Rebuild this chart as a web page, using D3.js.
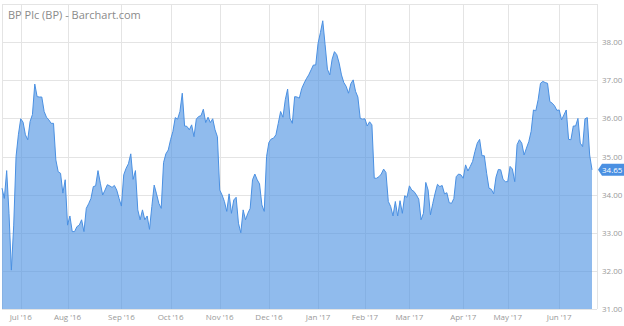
<!DOCTYPE html>
<html>
<head>
<meta charset="utf-8">
<script src="https://cdn.jsdelivr.net/npm/d3@7"></script>
<style>
  body { margin: 0; background: #fff; }
  svg text { font-family: "Open Sans", sans-serif; }
</style>
</head>
<body>
<svg width="624" height="326"></svg>
<script>
// daily closes, first trading day 2016-06-21, last 2017-06-21
const closes = [
  34.17, 33.90, 34.63, 33.50, 32.02, 33.20, 35.00, 35.57, 35.99, 35.90,
  35.57, 35.44, 35.92, 36.10, 36.90, 36.57, 36.56, 36.56, 36.18, 36.03,
  35.96, 35.87, 35.87, 34.91, 34.60, 34.56, 34.04, 34.39, 33.20, 33.44,
  33.03, 33.03, 33.16, 33.20, 33.34, 33.03, 33.64, 33.76, 33.90, 34.21,
  34.23, 34.63, 34.30, 33.99, 34.12, 34.26, 34.23, 34.19, 34.24, 34.12,
  33.90, 33.70, 34.52, 34.69, 34.81, 35.07, 34.40, 34.63, 33.60, 33.34,
  33.60, 33.34, 33.44, 33.09, 33.69, 34.25, 34.02, 33.77, 33.64, 34.84,
  35.07, 35.17, 35.44, 35.66, 36.02, 35.98, 36.18, 36.66, 35.80, 35.79,
  35.70, 35.83, 35.52, 35.98, 36.05, 36.07, 36.24, 35.89, 36.03, 35.89,
  35.99, 35.70, 35.52, 34.12, 33.99, 33.82, 33.56, 34.02, 33.51, 33.86,
  33.93, 33.25, 33.00, 33.60, 33.34, 33.51, 33.64, 34.39, 34.54, 34.39,
  34.28, 33.73, 33.56, 35.00, 35.37, 35.46, 35.48, 35.57, 35.87, 36.18,
  36.03, 36.49, 36.77, 36.00, 35.87, 36.57, 36.56, 36.53, 36.78, 36.92,
  37.04, 37.14, 37.27, 37.40, 37.40, 37.97, 38.25, 38.56, 37.93, 37.29,
  37.14, 37.55, 37.75, 37.67, 37.45, 37.14, 36.94, 36.84, 36.66, 36.91,
  37.01, 36.71, 36.56, 36.00, 35.98, 35.99, 35.80, 35.91, 35.83, 34.43,
  34.43, 34.47, 34.54, 34.67, 34.58, 33.82, 33.69, 33.44, 33.82, 33.44,
  33.84, 33.51, 33.97, 33.93, 34.23, 34.12, 34.08, 33.99, 33.88, 33.34,
  33.51, 34.32, 34.12, 33.47, 33.77, 34.04, 34.27, 34.21, 34.24, 34.02,
  34.05, 33.79, 33.77, 33.90, 34.47, 34.54, 34.52, 34.43, 34.78, 34.62,
  34.74, 34.87, 35.13, 35.35, 35.45, 35.02, 35.02, 34.56, 34.17, 34.14,
  34.02, 34.46, 34.66, 34.65, 34.40, 34.34, 34.34, 34.74, 34.67, 34.34,
  35.31, 35.44, 35.35, 35.04, 35.22, 35.39, 35.66, 36.22, 36.20, 36.49,
  36.92, 36.97, 36.94, 36.92, 36.44, 36.40, 36.33, 36.21, 36.22, 35.96,
  36.09, 36.22, 35.45, 35.44, 35.80, 35.80, 36.00, 35.35, 35.26, 35.99,
  36.02, 35.04, 34.65
];
const holidays = ["2016-07-04", "2016-09-05", "2016-11-24", "2016-12-26", "2017-01-02",
                  "2017-01-16", "2017-02-20", "2017-04-14", "2017-05-29"];
const yTicks = [31, 32, 33, 34, 35, 36, 37, 38];
const title = "BP Plc (BP) - Barchart.com";

// build the trading calendar
let fmt = d3.timeFormat("%Y-%m-%d");
let dates = [];
let day = new Date(2016, 5, 21);
while (dates.length < closes.length) {
    let wd = day.getDay();
    if (wd != 0 && wd != 6 && !holidays.includes(fmt(day))) dates.push(new Date(day));
    day = d3.timeDay.offset(day, 1);
}
let data = closes.map((c, i) => ({i: i, date: dates[i], close: c}));

// month starts -> first trading day index
let monthTicks = [];
data.forEach((d, i) => {
    if (i > 0 && d.date.getMonth() != data[i-1].date.getMonth()) monthTicks.push(d);
});

let svg = d3.select("svg");
let plot = {left: 2, right: 597, top: 4, bottom: 309};

let x = d3.scaleLinear().domain([0, closes.length - 1]).range([plot.left, 592]);
let y = d3.scaleLinear().domain([31, 39]).range([plot.bottom, plot.top]);

// grid
let grid = svg.append("g").attr("class", "grid");
grid.selectAll("line.h")
    .data(yTicks.concat([39]))
    .enter().append("line")
    .attr("x1", plot.left).attr("x2", plot.right)
    .attr("y1", d => Math.round(y(d)) + 0.5).attr("y2", d => Math.round(y(d)) + 0.5)
    .attr("stroke", "#e4e4e4");
grid.selectAll("line.v")
    .data(monthTicks)
    .enter().append("line")
    .attr("x1", d => Math.round(x(d.i)) + 0.5).attr("x2", d => Math.round(x(d.i)) + 0.5)
    .attr("y1", plot.top).attr("y2", plot.bottom)
    .attr("stroke", "#e4e4e4");
grid.append("line")
    .attr("x1", plot.right + 0.5).attr("x2", plot.right + 0.5)
    .attr("y1", plot.top).attr("y2", plot.bottom)
    .attr("stroke", "#e4e4e4");
grid.append("line")
    .attr("x1", plot.left + 0.5).attr("x2", plot.left + 0.5)
    .attr("y1", plot.top).attr("y2", plot.bottom)
    .attr("stroke", "#e4e4e4");

// area + line
let area = d3.area()
    .x(d => x(d.i))
    .y0(y(31))
    .y1(d => y(d.close));
let line = d3.line()
    .x(d => x(d.i))
    .y(d => y(d.close));

svg.append("path")
    .datum(data)
    .attr("d", area)
    .attr("fill", "rgb(74,144,226)")
    .attr("fill-opacity", 0.61);
svg.append("path")
    .datum(data)
    .attr("d", line)
    .attr("fill", "none")
    .attr("stroke", "#4a90e2")
    .attr("stroke-width", 1);

// y labels
svg.append("g").selectAll("text")
    .data(yTicks)
    .enter().append("text")
    .attr("x", 602)
    .attr("y", d => y(d) + 3)
    .attr("font-size", 8)
    .attr("fill", "#999")
    .text(d => d3.format(".2f")(d));

// x labels
let monthFmt = d3.timeFormat("%b '%y");
svg.append("g").selectAll("text")
    .data(monthTicks)
    .enter().append("text")
    .attr("x", d => x(d.i))
    .attr("y", 320)
    .attr("text-anchor", "middle")
    .attr("font-size", 8)
    .attr("fill", "#999")
    .text(d => monthFmt(d.date));

// last price tag
let last = data[data.length - 1];
let ty = y(last.close);
svg.append("path")
    .attr("d", `M598,${ty} L602,${ty-6} L624,${ty-6} L624,${ty+6} L602,${ty+6} Z`)
    .attr("fill", "#4a90e2");
svg.append("text")
    .attr("x", 602)
    .attr("y", ty + 3)
    .attr("font-size", 8)
    .attr("fill", "#fff")
    .text(d3.format(".2f")(last.close));

// title
svg.append("text")
    .attr("x", 8)
    .attr("y", 19)
    .attr("font-size", 11)
    .attr("fill", "#8a8a8a")
    .text(title);
</script>
</body>
</html>
